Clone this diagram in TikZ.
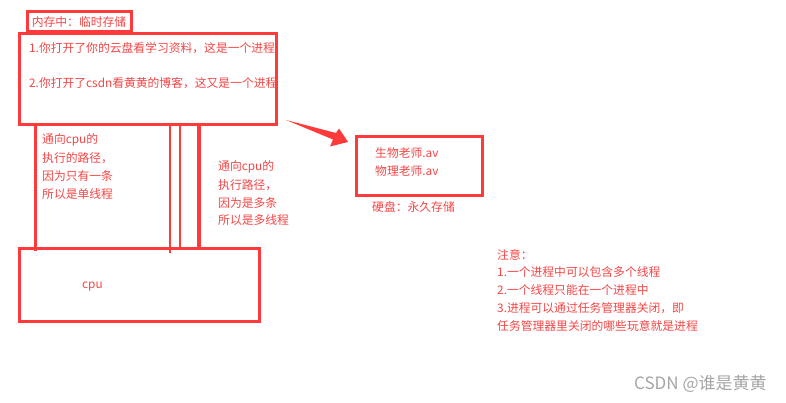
\documentclass[tikz,border=0pt]{standalone}
\usepackage{fontspec}
\setmainfont{Noto Sans CJK SC}
\definecolor{rd}{RGB}{255,58,58}
\definecolor{tx}{RGB}{245,70,70}
\definecolor{wm}{RGB}{165,165,165}
\begin{document}
\begin{tikzpicture}[x=1pt,y=-1pt,
  box/.style={draw=rd,line width=3pt,inner sep=0pt},
  lbl/.style={text=tx,font=\fontsize{11.8}{14}\selectfont,inner sep=0pt,anchor=west},
  wire/.style={draw=rd,line width=3pt}]
\useasboundingbox[fill=white] (0,0) rectangle (786,403);
% boxes
\node[box,minimum width=104pt,minimum height=20pt] (tag) at (79,22) {};
\node[lbl,anchor=center] (tagt) at (79,22.5) {内存中：临时存储};
\node[box,minimum width=257pt,minimum height=91pt] (mem) at (147.5,79.5) {};
\node[box,minimum width=240pt,minimum height=73pt] (cpu) at (139,284.5) {};
\node[box,minimum width=126pt,minimum height=59pt] (disk) at (419,166.5) {};
% memory text
\node[lbl] (m1) at (29,48) {1.你打开了你的云盘看学习资料，这是一个进程};
\node[lbl] (m2) at (29,83) {2.你打开了csdn看黄黄的博客，这又是一个进程};
% threads
\coordinate (a1) at (35,125); \coordinate (b1) at (35,251);
\coordinate (a2) at (170,125); \coordinate (b2) at (170,253);
\coordinate (a3) at (180,125); \coordinate (b3) at (180,250);
\coordinate (a4) at (199,125); \coordinate (b4) at (199,250);
\draw[wire] (a1) -- (b1);
\draw[wire,line width=2.6pt] (a2) -- (b2);
\draw[wire,line width=2pt] (a3) -- (b3);
\draw[wire,line width=3.4pt] (a4) -- (b4);
% left text
\node[lbl] (l1) at (42,140) {通向cpu的};
\node[lbl] (l2) at (42,158) {执行的路径，};
\node[lbl] (l3) at (42,176) {因为只有一条};
\node[lbl] (l4) at (42,194) {所以是单线程};
% right text
\node[lbl] (r1) at (218,167) {通向cpu的};
\node[lbl] (r2) at (218,185) {执行路径，};
\node[lbl] (r3) at (218,203) {因为是多条};
\node[lbl] (r4) at (218,220) {所以是多线程};
% cpu
\node[lbl] (cput) at (82,287) {cpu};
% arrow
\fill[rd] (286,120) -- (336,133) -- (339,128.5) -- (348,142) -- (330,146.5) -- (333,139.5) -- cycle;
% disk
\node[lbl] (d1) at (375,153) {生物老师.av};
\node[lbl] (d2) at (375,171) {物理老师.av};
\node[lbl] (dl) at (372,207) {硬盘：永久存储};
% notes
\node[lbl] (n0) at (497,255) {注意：};
\node[lbl] (n1) at (497,272) {1.一个进程中可以包含多个线程};
\node[lbl] (n2) at (497,290) {2.一个线程只能在一个进程中};
\node[lbl] (n3) at (497,308) {3.进程可以通过任务管理器关闭，即};
\node[lbl] (n4) at (497,326) {任务管理器里关闭的哪些玩意就是进程};
% watermark
\node[lbl,text=wm,font=\fontsize{17}{19}\selectfont] (wmk) at (634,384) {CSDN @谁是黄黄};
\end{tikzpicture}
\end{document}
